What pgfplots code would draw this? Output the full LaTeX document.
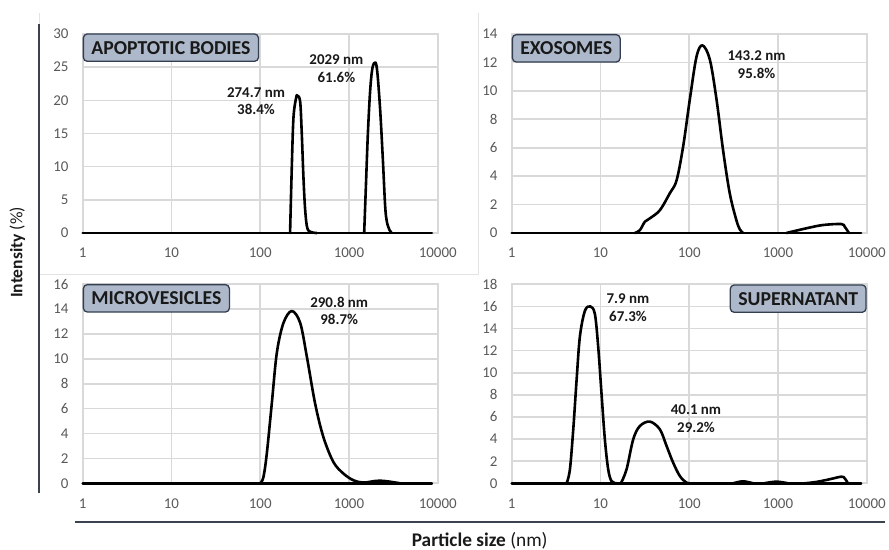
\documentclass[border=0pt]{standalone}
\usepackage{fontspec}
\setmainfont{Carlito}
\usepackage{pgfplots}
\pgfplotsset{compat=1.18}

\definecolor{gridgrey}{HTML}{D9D9D9}
\definecolor{ticktext}{HTML}{595959}
\definecolor{boxfill}{HTML}{ADB9CA}
\definecolor{boxdraw}{HTML}{333F50}
\definecolor{frameline}{HTML}{3B4250}
\definecolor{chartedge}{HTML}{E3E3E3}

\pgfplotsset{
  dlspanel/.style={
    anchor=south west,
    scale only axis,
    width=355bp, height=199bp,
    xmin=1, xmax=10000, ymin=0,
    xtick={1,10,100,1000,10000},
    xticklabels={1,10,100,1000,10000},
    grid=major,
    major grid style={draw=gridgrey, line width=1.6bp},
    axis line style={draw=gridgrey, line width=1.6bp},
    major tick length=0pt,
    tick style={draw=none},
    tick label style={font=\fontsize{15}{17}\selectfont, text=ticktext, inner sep=0pt},
    xticklabel style={anchor=center, yshift=-20bp},
    yticklabel style={anchor=east, xshift=-14bp},
    clip=false,
  },
}

\tikzset{
  dlscurve/.style={black, line width=2.6bp, line join=round, line cap=round},
  dlsbump/.style={dlscurve, smooth, tension=0.55},
  labelbox/.style={draw=boxdraw, line width=1.3bp, fill=boxfill, rounded corners=4bp,
    inner xsep=8bp, inner ysep=0pt, minimum height=27.4bp, text=black!90,
    font=\fontsize{19.8}{22}\selectfont\bfseries},
  peaklabel/.style={align=center, text=black!90, font=\fontsize{15}{17.5}\selectfont\bfseries, inner sep=0pt},
}

\begin{document}
\begin{tikzpicture}[x=1bp,y=1bp]
\useasboundingbox (0,0) rectangle (889,550);

% light outline of the first chart area
\draw[chartedge, line width=0.8bp] (39.3,537) -- (39.3,520);
\draw[chartedge, line width=0.8bp] (478,537) -- (478,275.5) -- (39.3,275.5);

% ---------------- Apoptotic bodies ----------------
\begin{semilogxaxis}[dlspanel, at={(82.7bp,317bp)}, ymax=30, ytick={0,5,...,30},
  /pgf/number format/assume math mode=true]
\addplot[dlscurve] coordinates {(1,0) (8600,0)};
\addplot[dlsbump] coordinates {
  (217,0) (227,10) (237,17.4) (254,20.4) (263,20.7) (282,19.8) (294,15) (307,8.4)
  (321,3.5) (340,0.7) (382,0.1) (435,0)};
\addplot[dlsbump] coordinates {
  (1484,0) (1551,6.95) (1634,15) (1734,21.5) (1841,24.9) (1990,25.7) (2095,24)
  (2248,18.5) (2411,11) (2559,4) (2674,1.7) (2863,0.45) (3045,0)};
\end{semilogxaxis}

% ---------------- Exosomes ----------------
\begin{semilogxaxis}[dlspanel, at={(511.7bp,317bp)}, ymax=14, ytick={0,2,...,14},
  /pgf/number format/assume math mode=true]
\addplot[dlscurve] coordinates {(1,0) (8650,0)};
\addplot[dlsbump] coordinates {
  (24.4,0) (27.8,0.2) (31.7,0.8) (36,1.03) (46.7,1.6) (60.5,2.8) (72,3.7) (85.5,6.1)
  (101.6,9.4) (120.8,12.4) (141,13.2) (170.7,12.2) (203,9.4) (241,5.8) (286,2.8)
  (340,0.9) (372,0.25) (404,0)};
\addplot[dlsbump] coordinates {
  (1245,0) (2090,0.33) (3215,0.56) (5175,0.63) (5650,0.44) (6300,0)};
\end{semilogxaxis}

% ---------------- Microvesicles ----------------
\begin{semilogxaxis}[dlspanel, at={(82.7bp,66.7bp)}, ymax=16, ytick={0,2,...,16},
  /pgf/number format/assume math mode=true]
\addplot[dlscurve] coordinates {(1,0) (8600,0)};
\addplot[dlsbump] coordinates {
  (100,0) (108.7,0.5) (118.7,2.4) (135,6.4) (154,10.5) (183,12.9) (227,13.85)
  (282,12.9) (335,10.2) (416,6.4) (516,3.7) (669,1.7) (867,0.78) (1124,0.24)
  (1458,0.06) (2060,0.2) (2630,0.17) (3776,0)};
\end{semilogxaxis}

% ---------------- Supernatant ----------------
\begin{semilogxaxis}[dlspanel, at={(511.7bp,66.7bp)}, ymax=18, ytick={0,2,...,18},
  /pgf/number format/assume math mode=true]
\addplot[dlscurve] coordinates {(1,0) (8650,0)};
\addplot[dlsbump] coordinates {
  (4.16,0) (4.53,1.27) (4.94,4.9) (5.39,9.4) (5.87,13.3) (6.68,15.6) (7.7,16.0)
  (8.66,15.3) (9.44,12.3) (10.3,8) (11.2,4.0) (12.2,1.3) (13.3,0.2) (15.2,0)};
\addplot[dlsbump] coordinates {
  (17,0) (19.7,1.27) (23.4,3.98) (27.8,5.18) (36,5.58) (46.7,4.88) (55.6,3.37)
  (65.9,1.87) (78.4,0.66) (93.3,0.06) (110.7,0)};
\addplot[dlsbump] coordinates {(312,0) (404,0.18) (525,0)};
\addplot[dlsbump] coordinates {(700,0) (960,0.15) (1300,0)};
\addplot[dlsbump] coordinates {
  (2000,0) (2700,0.12) (3800,0.36) (5175,0.6) (5650,0.45) (6140,0)};
\end{semilogxaxis}

% panel titles
\node[labelbox, anchor=north west] at (82.7,516.7) {APOPTOTIC BODIES};
\node[labelbox, anchor=north west] at (511.7,516) {EXOSOMES};
\node[labelbox, anchor=north west] at (82.7,266) {MICROVESICLES};
\node[labelbox, anchor=north east] at (866.7,265.7) {SUPERNATANT};

% peak annotations
\node[peaklabel] at (256,448.6) {274.7 nm\\38.4\%};
\node[peaklabel] at (336.4,481.5) {2029 nm\\61.6\%};
\node[peaklabel] at (756.5,485.5) {143.2 nm\\95.8\%};
\node[peaklabel] at (339.2,239.2) {290.8 nm\\98.7\%};
\node[peaklabel] at (628,242.5) {7.9 nm\\67.3\%};
\node[peaklabel] at (696,131.2) {40.1 nm\\29.2\%};

% shared axis frame and titles
\draw[frameline, line width=2bp] (39.3,526) -- (39.3,56.7);
\draw[frameline, line width=2bp] (75,28.3) -- (885,28.3);
\node[rotate=90, font=\fontsize{17.6}{20}\selectfont, text=black!90] at (17.3,297.5)
  {\textbf{Intensity} (\%)};
\node[anchor=base, font=\fontsize{19.4}{22}\selectfont, text=black!90] at (479.7,3.3)
  {\textbf{Particle size} (nm)};
\end{tikzpicture}
\end{document}
